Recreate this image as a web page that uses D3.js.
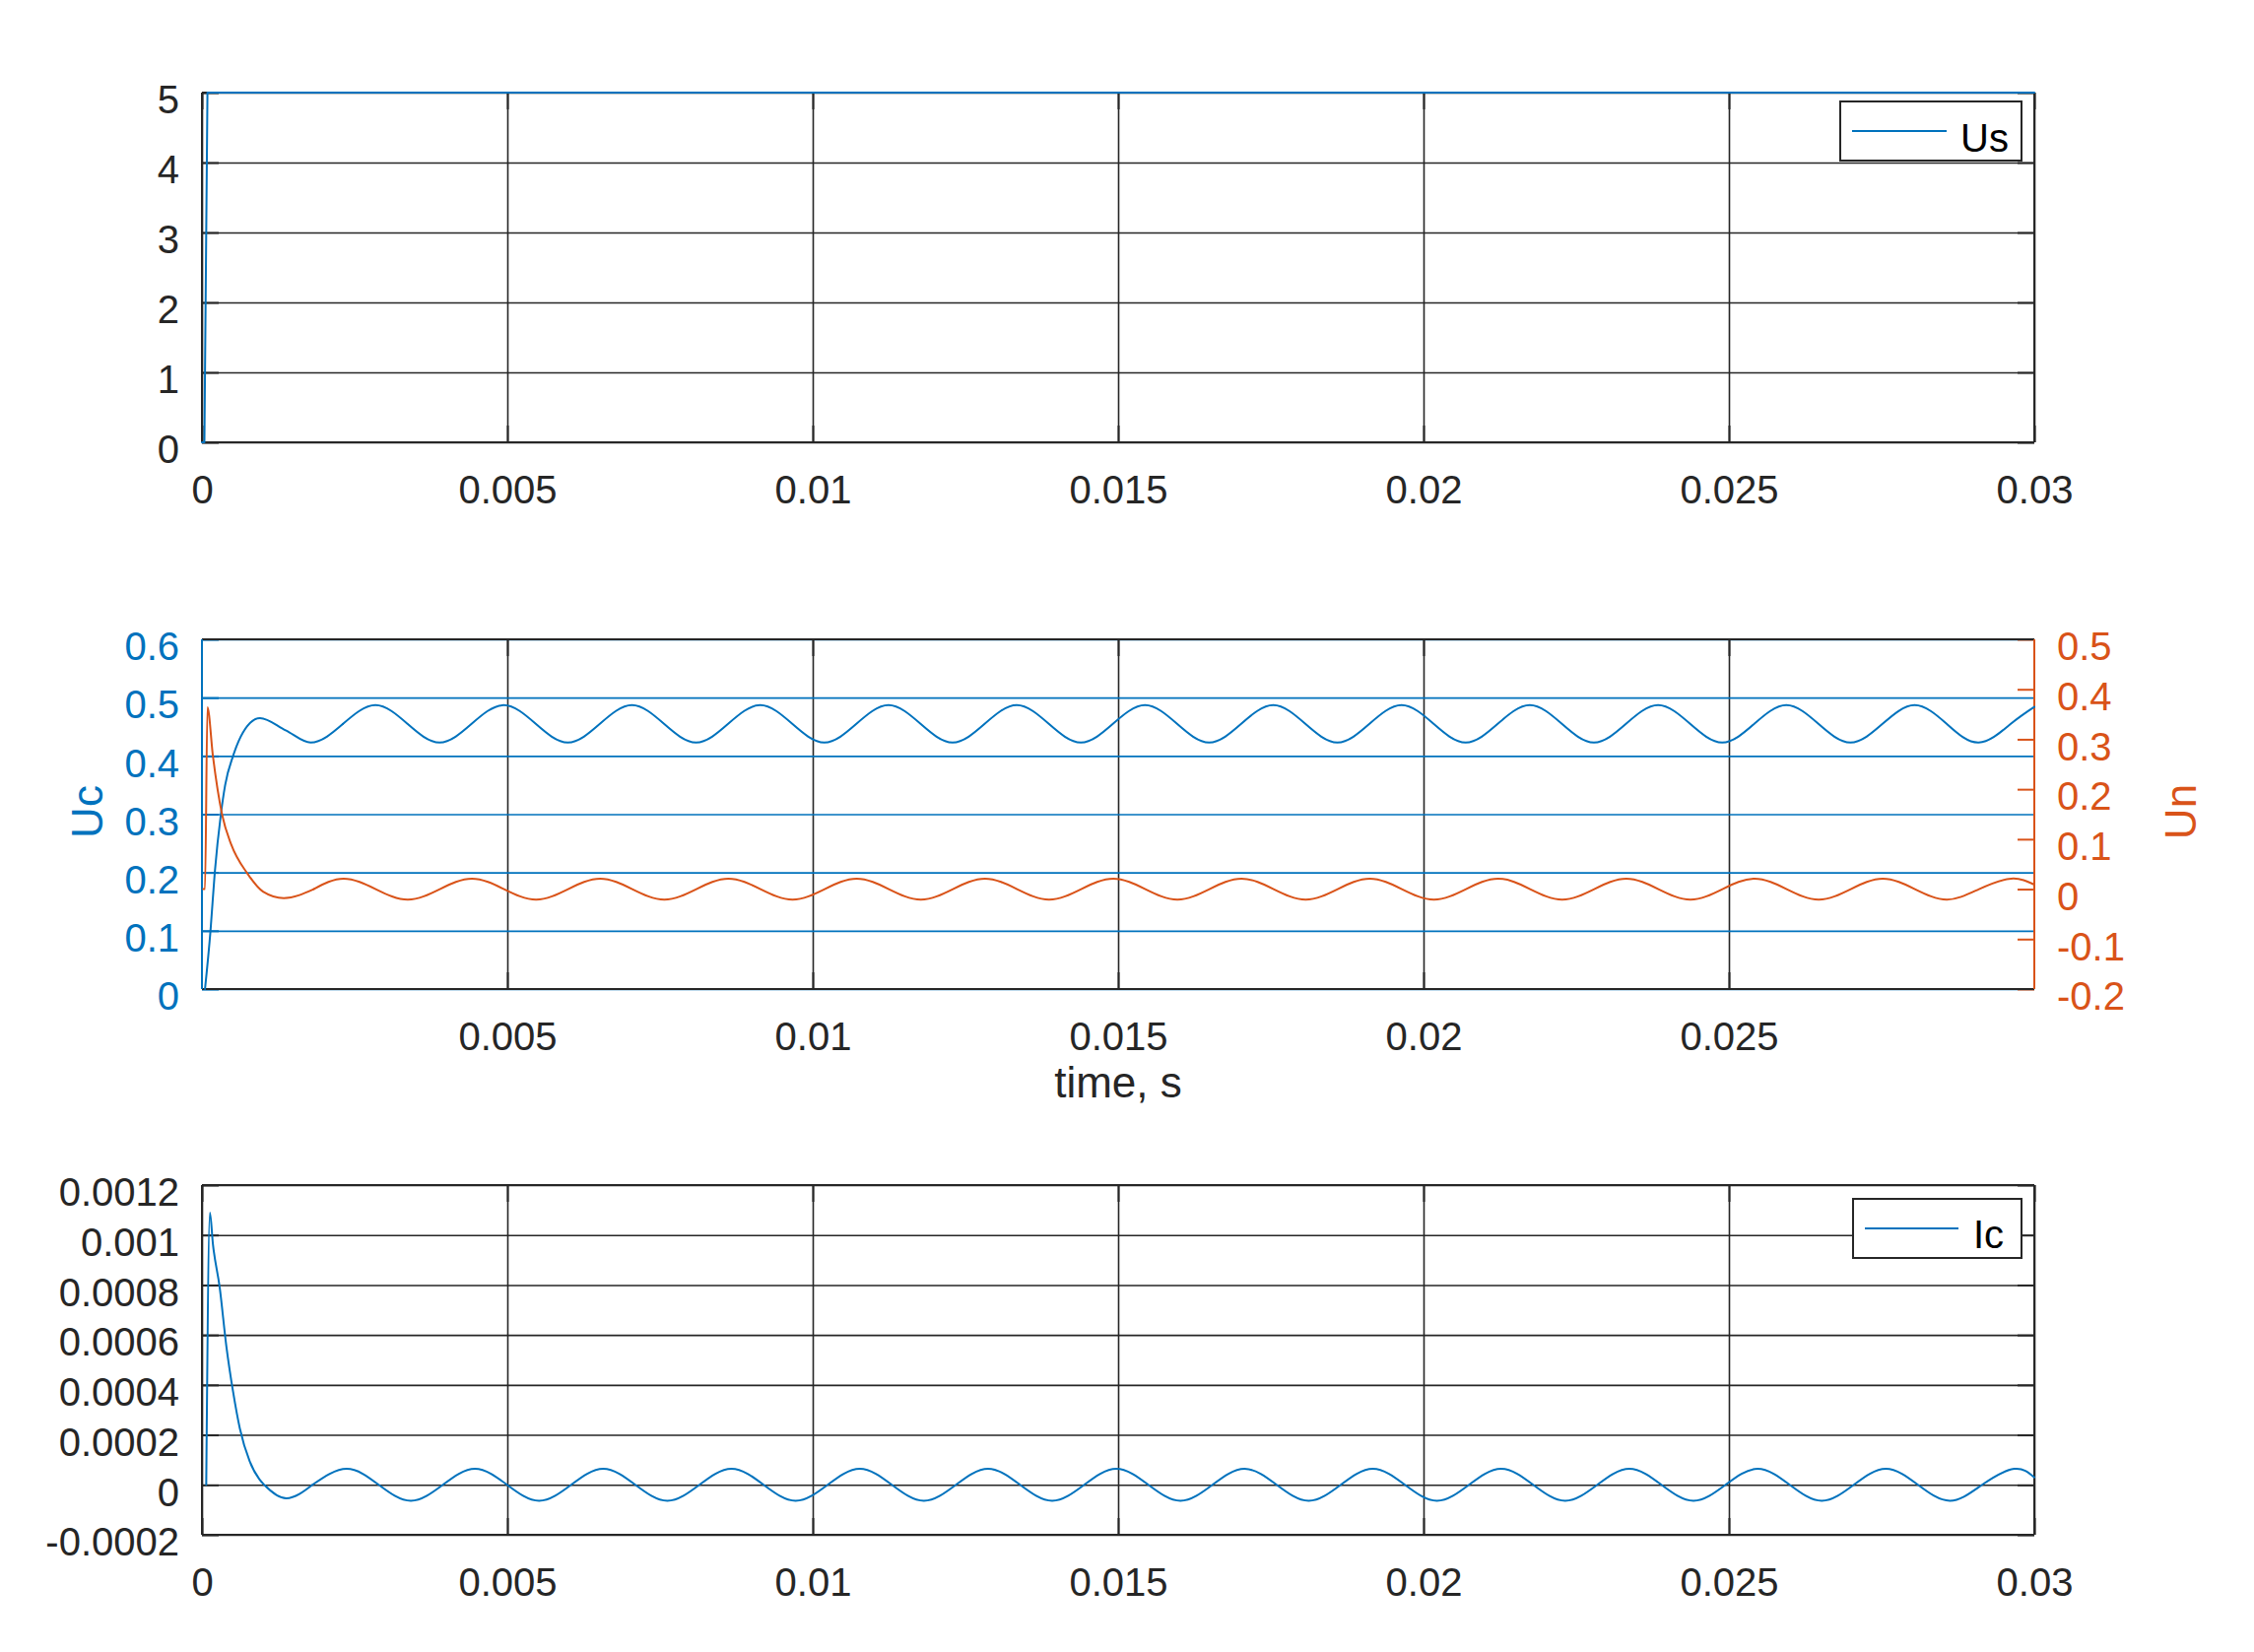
<!DOCTYPE html>
<html>
<head>
<meta charset="utf-8">
<script src="https://cdn.jsdelivr.net/npm/d3@7"></script>
<style>
  html, body { margin: 0; padding: 0; background: #fff; }
  text { font-family: "Liberation Sans", Arial, Helvetica, sans-serif; }
</style>
</head>
<body>
<script>
// ---------------- DATA ----------------
const xTicksFull = [0, 0.005, 0.01, 0.015, 0.02, 0.025, 0.03];
const xTicksMid  = [0.005, 0.01, 0.015, 0.02, 0.025];
const usTicks = [0, 1, 2, 3, 4, 5];
const ucTicks = [0, 0.1, 0.2, 0.3, 0.4, 0.5, 0.6];
const unTicks = [-0.2, -0.1, 0, 0.1, 0.2, 0.3, 0.4, 0.5];
const icTicks = [-0.0002, 0, 0.0002, 0.0004, 0.0006, 0.0008, 0.001, 0.0012];

// Us (source voltage)
const usT = [0, 0.00004, 0.00009, 0.03];
const usV = [0, 0, 5, 5];

// Uc (capacitor voltage, left axis)
const ucT = [0.00005, 0.00014, 0.00021, 0.00031, 0.00038, 0.00051, 0.00067, 0.00095, 0.00137, 0.00178, 0.00231,
  0.00284, 0.003365, 0.00389, 0.004415,
  0.00494, 0.005465, 0.00599, 0.006515,
  0.00704, 0.007565, 0.00809, 0.008615,
  0.00914, 0.009665, 0.01019, 0.010715,
  0.01124, 0.011765, 0.01229, 0.012815,
  0.01334, 0.013865, 0.01439, 0.014915,
  0.01544, 0.015965, 0.01649, 0.017015,
  0.01754, 0.018065, 0.01859, 0.019115,
  0.01964, 0.020165, 0.02069, 0.021215,
  0.02174, 0.022265, 0.02279, 0.023315,
  0.02384, 0.024365, 0.02489, 0.025415,
  0.02594, 0.026465, 0.02699, 0.027515,
  0.02804, 0.028565, 0.02909, 0.029615,
  0.03];
const ucV = [0, 0.1, 0.2, 0.3, 0.35, 0.4, 0.44, 0.465, 0.444, 0.423, 0.455,
  0.487, 0.455, 0.423, 0.455,
  0.487, 0.455, 0.423, 0.455,
  0.487, 0.455, 0.423, 0.455,
  0.487, 0.455, 0.423, 0.455,
  0.487, 0.455, 0.423, 0.455,
  0.487, 0.455, 0.423, 0.455,
  0.487, 0.455, 0.423, 0.455,
  0.487, 0.455, 0.423, 0.455,
  0.487, 0.455, 0.423, 0.455,
  0.487, 0.455, 0.423, 0.455,
  0.487, 0.455, 0.423, 0.455,
  0.487, 0.455, 0.423, 0.455,
  0.487, 0.455, 0.423, 0.455,
  0.484];

// Un (right axis)
const unT = [0.00002, 0.00005, 0.00009, 0.00018, 0.00033, 0.00048, 0.00074, 0.00100, 0.00134, 0.00183,
  0.00232, 0.002845, 0.00337, 0.003895,
  0.00442, 0.004945, 0.00547, 0.005995,
  0.00652, 0.007045, 0.00757, 0.008095,
  0.00862, 0.009145, 0.00967, 0.010195,
  0.01072, 0.011245, 0.01177, 0.012295,
  0.01282, 0.013345, 0.01387, 0.014395,
  0.01492, 0.015445, 0.01597, 0.016495,
  0.01702, 0.017545, 0.01807, 0.018595,
  0.01912, 0.019645, 0.02017, 0.020695,
  0.02122, 0.021745, 0.02227, 0.022795,
  0.02332, 0.023845, 0.02437, 0.024895,
  0.02542, 0.025945, 0.02647, 0.026995,
  0.02752, 0.028045, 0.02857, 0.029095,
  0.02962, 0.03];
const unV = [0, 0, 0.364, 0.266, 0.149, 0.089, 0.032, -0.005, -0.018, 0,
  0.021, 0, -0.021, 0,
  0.021, 0, -0.021, 0,
  0.021, 0, -0.021, 0,
  0.021, 0, -0.021, 0,
  0.021, 0, -0.021, 0,
  0.021, 0, -0.021, 0,
  0.021, 0, -0.021, 0,
  0.021, 0, -0.021, 0,
  0.021, 0, -0.021, 0,
  0.021, 0, -0.021, 0,
  0.021, 0, -0.021, 0,
  0.021, 0, -0.021, 0,
  0.021, 0, -0.021, 0,
  0.021, 0.009];

// Ic (capacitor current)
const icT = [0.00007, 0.00013, 0.00018, 0.00029, 0.00040, 0.00051, 0.00062, 0.00078, 0.00094, 0.00102, 0.00138, 0.00181,
  0.00237, 0.002895, 0.00342, 0.003945,
  0.00447, 0.004995, 0.00552, 0.006045,
  0.00657, 0.007095, 0.00762, 0.008145,
  0.00867, 0.009195, 0.00972, 0.010245,
  0.01077, 0.011295, 0.01182, 0.012345,
  0.01287, 0.013395, 0.01392, 0.014445,
  0.01497, 0.015495, 0.01602, 0.016545,
  0.01707, 0.017595, 0.01812, 0.018645,
  0.01917, 0.019695, 0.02022, 0.020745,
  0.02127, 0.021795, 0.02232, 0.022845,
  0.02337, 0.023895, 0.02442, 0.024945,
  0.02547, 0.025995, 0.02652, 0.027045,
  0.02757, 0.028095, 0.02862, 0.029145,
  0.02967, 0.03];
const icV = [0, 0.00109, 0.000963, 0.000791, 0.000554, 0.000372, 0.000226, 0.000095, 0.000022, 0, -0.000054, 0,
  0.000064, 0, -0.000064, 0,
  0.000064, 0, -0.000064, 0,
  0.000064, 0, -0.000064, 0,
  0.000064, 0, -0.000064, 0,
  0.000064, 0, -0.000064, 0,
  0.000064, 0, -0.000064, 0,
  0.000064, 0, -0.000064, 0,
  0.000064, 0, -0.000064, 0,
  0.000064, 0, -0.000064, 0,
  0.000064, 0, -0.000064, 0,
  0.000064, 0, -0.000064, 0,
  0.000064, 0, -0.000064, 0,
  0.000064, 0, -0.000064, 0,
  0.000064, 0.00003];

// index where the transient ends and the steady oscillation begins (a mid crossing)
const ucSplit = 10, unSplit = 9, icSplit = 11;

// ---------------- LAYOUT / STYLE ----------------
const W = 2288, H = 1677;
const L = 205, PW = 1860, PH = 355;
const tops = [94, 649, 1203];
const AX = "#262626", BLUE = "#0072BD", ORANGE = "#D95319";
const FS = 40, TICK = 17;
const fmt = d => String(d);

const svg = d3.select("body").append("svg").attr("width", W).attr("height", H);
svg.append("rect").attr("width", W).attr("height", H).attr("fill", "#fff");

const x = d3.scaleLinear().domain([0, 0.03]).range([0, PW]);

function styleAxis(sel, color, width) {
  sel.select(".domain").remove();
  sel.selectAll("line").attr("stroke", color).attr("stroke-width", width);
}
function gridX(g, ticks, color) {
  const a = g.append("g").attr("transform", `translate(0,${PH})`)
    .call(d3.axisBottom(x).tickValues(ticks).tickSize(-PH).tickFormat(""));
  styleAxis(a, color, 1.6);
}
function gridY(g, y, ticks, color) {
  const a = g.append("g").call(d3.axisLeft(y).tickValues(ticks).tickSize(-PW).tickFormat(""));
  styleAxis(a, color, 1.6);
}
function xLabels(g, ticks) {
  const a = g.append("g").attr("transform", `translate(0,${PH})`)
    .call(d3.axisBottom(x).tickValues(ticks).tickSize(0).tickPadding(34).tickFormat(fmt));
  a.select(".domain").remove();
  a.selectAll("text").attr("font-size", FS).attr("fill", AX)
    .attr("font-family", "Liberation Sans, Arial, sans-serif");
}
function yLabelsLeft(g, y, ticks, color) {
  const a = g.append("g").call(d3.axisLeft(y).tickValues(ticks).tickSize(0).tickPadding(23).tickFormat(fmt));
  a.select(".domain").remove();
  a.selectAll("text").attr("font-size", FS).attr("fill", color).attr("dy", "0.52em")
    .attr("font-family", "Liberation Sans, Arial, sans-serif");
}
function yLabelsRight(g, y, ticks, color) {
  const a = g.append("g").attr("transform", `translate(${PW},0)`)
    .call(d3.axisRight(y).tickValues(ticks).tickSize(0).tickPadding(23).tickFormat(fmt));
  a.select(".domain").remove();
  a.selectAll("text").attr("font-size", FS).attr("fill", color).attr("dy", "0.52em")
    .attr("font-family", "Liberation Sans, Arial, sans-serif");
}
function inTicks(g, yL, ticksL, colL, yR, ticksR, colR, xt) {
  let a = g.append("g").call(d3.axisLeft(yL).tickValues(ticksL).tickSize(-TICK).tickFormat(""));
  styleAxis(a, colL, 2);
  a = g.append("g").attr("transform", `translate(${PW},0)`)
    .call(d3.axisRight(yR).tickValues(ticksR).tickSize(-TICK).tickFormat(""));
  styleAxis(a, colR, 2);
  a = g.append("g").call(d3.axisTop(x).tickValues(xt).tickSize(-TICK).tickFormat(""));
  styleAxis(a, AX, 2);
  a = g.append("g").attr("transform", `translate(0,${PH})`)
    .call(d3.axisBottom(x).tickValues(xt).tickSize(-TICK).tickFormat(""));
  styleAxis(a, AX, 2);
}
function frame(g, cl, cr) {
  const f = g.append("g").attr("stroke-width", 2).attr("fill", "none");
  f.append("line").attr("x1", 0).attr("x2", PW).attr("y1", 0).attr("y2", 0).attr("stroke", AX);
  f.append("line").attr("x1", 0).attr("x2", PW).attr("y1", PH).attr("y2", PH).attr("stroke", AX);
  f.append("line").attr("x1", 0).attr("x2", 0).attr("y1", 0).attr("y2", PH).attr("stroke", cl);
  f.append("line").attr("x1", PW).attr("x2", PW).attr("y1", 0).attr("y2", PH).attr("stroke", cr);
}
function drawPath(g, y, pts, color, curve) {
  g.append("path").datum(pts)
    .attr("fill", "none").attr("stroke", color).attr("stroke-width", 2)
    .attr("stroke-linejoin", "round").attr("stroke-linecap", "round")
    .attr("d", d3.line().x(d => x(d[0])).y(d => y(d[1])).curve(curve));
}
// transient part with a monotone curve, steady oscillation with a natural spline
function drawSeries(g, y, T, V, split, color) {
  const pts = d3.zip(T, V);
  drawPath(g, y, pts.slice(0, split + 1), color, d3.curveMonotoneX);
  drawPath(g, y, pts.slice(split), color, d3.curveNatural);
}
function legend(g, bx, by, bw, bh, lx1, lx2, ly, tx, ty, label) {
  const lg = g.append("g");
  lg.append("rect").attr("x", bx).attr("y", by).attr("width", bw).attr("height", bh)
    .attr("fill", "#fff").attr("stroke", AX).attr("stroke-width", 2);
  lg.append("line").attr("x1", lx1).attr("x2", lx2).attr("y1", ly).attr("y2", ly)
    .attr("stroke", BLUE).attr("stroke-width", 2);
  lg.append("text").attr("x", tx).attr("y", ty).attr("font-size", FS).attr("fill", "#000").text(label);
}

// ---------------- PANEL 1: Us ----------------
{
  const g = svg.append("g").attr("transform", `translate(${L},${tops[0]})`);
  const y = d3.scaleLinear().domain([0, 5]).range([PH, 0]);
  gridX(g, xTicksFull, AX);
  gridY(g, y, usTicks, AX);
  inTicks(g, y, usTicks, AX, y, usTicks, AX, xTicksFull);
  frame(g, AX, AX);
  xLabels(g, xTicksFull);
  yLabelsLeft(g, y, usTicks, AX);
  drawPath(g, y, d3.zip(usT, usV), BLUE, d3.curveLinear);
  legend(g, 1868 - L, 103 - tops[0], 184, 60, 1880 - L, 1976 - L, 133 - tops[0], 1990 - L, 154 - tops[0], "Us");
}

// ---------------- PANEL 2: Uc / Un ----------------
{
  const g = svg.append("g").attr("transform", `translate(${L},${tops[1]})`);
  const yL = d3.scaleLinear().domain([0, 0.6]).range([PH, 0]);
  const yR = d3.scaleLinear().domain([-0.2, 0.5]).range([PH, 0]);
  gridX(g, xTicksMid, AX);
  gridY(g, yL, ucTicks, BLUE);
  inTicks(g, yL, ucTicks, BLUE, yR, unTicks, ORANGE, xTicksMid);
  frame(g, BLUE, ORANGE);
  xLabels(g, xTicksMid);
  yLabelsLeft(g, yL, ucTicks, BLUE);
  yLabelsRight(g, yR, unTicks, ORANGE);
  drawSeries(g, yL, ucT, ucV, ucSplit, BLUE);
  drawSeries(g, yR, unT, unV, unSplit, ORANGE);
  svg.append("text").attr("transform", "translate(104,824) rotate(-90)")
    .attr("text-anchor", "middle").attr("font-size", 44).attr("fill", BLUE).text("Uc");
  svg.append("text").attr("transform", "translate(2229,824) rotate(-90)")
    .attr("text-anchor", "middle").attr("font-size", 44).attr("fill", ORANGE).text("Un");
  svg.append("text").attr("x", L + PW / 2).attr("y", 1114)
    .attr("text-anchor", "middle").attr("font-size", 44).attr("fill", AX).text("time, s");
}

// ---------------- PANEL 3: Ic ----------------
{
  const g = svg.append("g").attr("transform", `translate(${L},${tops[2]})`);
  const y = d3.scaleLinear().domain([-0.0002, 0.0012]).range([PH, 0]);
  gridX(g, xTicksFull, AX);
  gridY(g, y, icTicks, AX);
  inTicks(g, y, icTicks, AX, y, icTicks, AX, xTicksFull);
  frame(g, AX, AX);
  xLabels(g, xTicksFull);
  yLabelsLeft(g, y, icTicks, AX);
  drawSeries(g, y, icT, icV, icSplit, BLUE);
  legend(g, 1881 - L, 1217 - tops[2], 171, 60, 1893 - L, 1988 - L, 1247 - tops[2], 2003 - L, 1267 - tops[2], "Ic");
}
</script>
</body>
</html>
